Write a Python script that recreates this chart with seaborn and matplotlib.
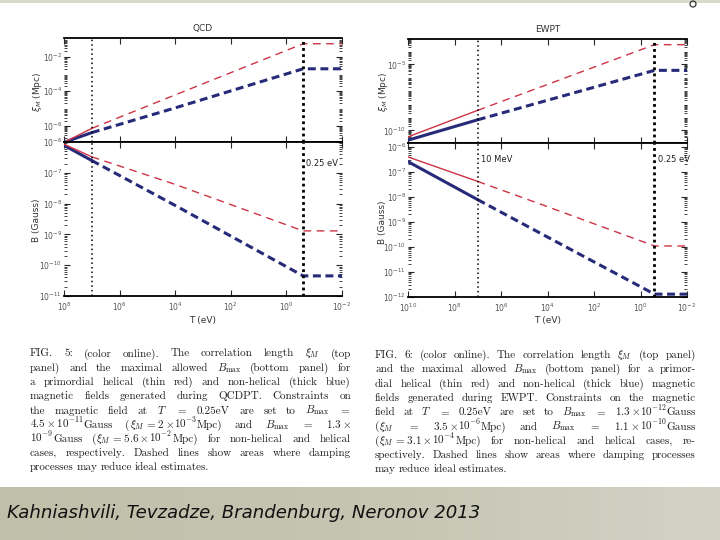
import numpy as np
import pandas as pd
import matplotlib
matplotlib.use("Agg")
import matplotlib.pyplot as plt
import seaborn as sns
from matplotlib.ticker import FixedLocator, NullFormatter, LogFormatterSciNotation
from matplotlib.patches import Rectangle, Ellipse
from matplotlib.colors import LinearSegmentedColormap

sns.set_theme(style="white")
plt.rcParams["font.family"] = ["DejaVu Sans"]
plt.rcParams["mathtext.fontset"] = "dejavusans"

# ---------------- data ----------------
qcd_T = [1e8, 1e7, 1e4, 0.25, 1e-2]
qcd_xi_hel = [1.12e-7, 7.2e-7, 6.2e-5, 5.6e-2, 5.6e-2]
qcd_xi_non = [1.12e-7, 4.1e-7, 1.1e-5, 2.0e-3, 2.0e-3]
qcd_B_hel = [8.5e-7, 3.3e-7, 4.2e-8, 1.3e-9, 1.3e-9]
qcd_B_non = [7.8e-7, 2.5e-7, 8.7e-9, 4.5e-11, 4.5e-11]

ew_T = [1e10, 1e7, 1e4, 0.25, 1e-2]
ew_xi_hel = [3.2e-11, 3.3e-9, 3.0e-7, 3.1e-4, 3.1e-4]
ew_xi_non = [1.8e-11, 6.3e-10, 1.9e-8, 3.5e-6, 3.5e-6]
ew_B_hel = [4.0e-7, 4.2e-8, 4.1e-9, 1.1e-10, 1.1e-10]
ew_B_non = [2.6e-7, 7.8e-9, 2.5e-10, 1.3e-12, 1.3e-12]

qcd_xticks = [1e8, 1e6, 1e4, 1e2, 1e0, 1e-2]
ew_xticks = [1e10, 1e8, 1e6, 1e4, 1e2, 1e0, 1e-2]
qcd_xi_yticks = [1e-2, 1e-4, 1e-6]
qcd_B_yticks = [1e-6, 1e-7, 1e-8, 1e-9, 1e-10, 1e-11]
ew_xi_yticks = [1e-5, 1e-10]
ew_B_yticks = [1e-6, 1e-7, 1e-8, 1e-9, 1e-10, 1e-11, 1e-12]

# "|" joins pieces of one word without a justified gap
caption5 = [
    r"FIG. 5: (color online). The correlation length $\xi_M$ (top",
    r"panel) and the maximal allowed $B_\mathrm{max}$ (bottom panel) for",
    r"a primordial helical (thin red) and non-helical (thick blue)",
    r"magnetic fields generated during QCDPT. Constraints on",
    r"the magnetic field at $T$ $=$ 0.25eV are set to $B_\mathrm{max}$ $=$",
    r"$4.5\times10^{-11}$|Gauss (|$\xi_M$|$=2\times$|$10^{-3}$|Mpc) and $B_\mathrm{max}$ $=$ $1.3\times$",
    r"$10^{-9}$|Gauss (|$\xi_M$|$=5.6\times$|$10^{-2}$|Mpc) for non-helical and helical",
    r"cases, respectively. Dashed lines show areas where damping",
    r"processes may reduce ideal estimates.",
]
caption6 = [
    r"FIG. 6: (color online). The correlation length $\xi_M$ (top panel)",
    r"and the maximal allowed $B_\mathrm{max}$ (bottom panel) for a primor-",
    r"dial helical (thin red) and non-helical (thick blue) magnetic",
    r"fields generated during EWPT. Constraints on the magnetic",
    r"field at $T$ $=$ 0.25eV are set to $B_\mathrm{max}$ $=$ $1.3\times$|$10^{-12}$|Gauss",
    r"(|$\xi_M$ $=$ $3.5\times$|$10^{-6}$|Mpc) and $B_\mathrm{max}$ $=$ $1.1\times$|$10^{-10}$|Gauss",
    r"(|$\xi_M$|$=3.1\times$|$10^{-4}$|Mpc) for non-helical and helical cases, re-",
    r"spectively. Dashed lines show areas where damping processes",
    r"may reduce ideal estimates.",
]
footer_text = "Kahniashvili, Tevzadze, Brandenburg, Neronov 2013"

# ---------------- style ----------------
RED = "#cc3346"
BLUE = "#262a78"
W, H = 720, 540
fig = plt.figure(figsize=(7.2, 5.4), dpi=100, facecolor="white")


def fx(px):
    return px / W


def fy(py):
    return 1 - py / H


def box(x0, y0, x1, y1):
    return [fx(x0), fy(y1), fx(x1) - fx(x0), fy(y0) - fy(y1)]


def draw_series(ax, T, hel, non):
    d_red = dict(color=RED, lw=1.0)
    d_blue = dict(color=BLUE, lw=2.2)
    sns.lineplot(x=T[:2], y=non[:2], ax=ax, estimator=None, sort=False, **d_blue)
    sns.lineplot(x=T[:2], y=hel[:2], ax=ax, estimator=None, sort=False, **d_red)
    sns.lineplot(x=T[1:], y=non[1:], ax=ax, estimator=None, sort=False,
                 dashes=False, linestyle=(0, (2.6, 1.5)), **d_blue)
    sns.lineplot(x=T[1:], y=hel[1:], ax=ax, estimator=None, sort=False,
                 dashes=False, linestyle=(0, (5.5, 4)), **d_red)


def style_axes(ax, xlim, ylim, xticks, yticks, show_xlabels):
    ax.set_xscale("log")
    ax.set_yscale("log")
    ax.set_xlim(*xlim)
    ax.set_ylim(*ylim)
    ax.set_facecolor("white")
    for s in ("left", "right"):
        ax.spines[s].set_visible(False)
    for s in ("top", "bottom"):
        ax.spines[s].set_visible(True)
        ax.spines[s].set_color("black")
        ax.spines[s].set_linewidth(1.3)
    ax.xaxis.set_major_locator(FixedLocator(xticks))
    ax.xaxis.set_minor_locator(FixedLocator([]))
    ax.yaxis.set_major_locator(FixedLocator(yticks))
    lo, hi = np.log10(ylim[0]), np.log10(ylim[1])
    minors = []
    for e in range(int(np.floor(lo)) - 1, int(np.ceil(hi)) + 1):
        for m in range(2, 10):
            minors.append(m * 10.0 ** e)
    ax.yaxis.set_minor_locator(FixedLocator(minors))
    ax.yaxis.set_minor_formatter(NullFormatter())
    ax.yaxis.set_major_formatter(LogFormatterSciNotation())
    ax.xaxis.set_major_formatter(LogFormatterSciNotation())
    ax.tick_params(axis="both", which="major", direction="in", length=4, width=0.8,
                   top=True, bottom=True, left=True, right=True, labelsize=5.5,
                   labelcolor="#555555", pad=1.5)
    ax.tick_params(axis="x", which="major", pad=3.2)
    ax.tick_params(axis="y", which="minor", direction="in", length=2, width=0.6,
                   left=True, right=True)
    if not show_xlabels:
        ax.tick_params(axis="x", labelbottom=False)
    ax.grid(False)
    ax.set_xlabel("")
    ax.set_ylabel("")


def vlines(axes, xs):
    for ax in axes:
        ax.axvline(xs[0], color="black", lw=1.1, linestyle=(0, (1, 2)))
        ax.axvline(xs[1], color="black", lw=2.0, linestyle=(0, (1, 1.2)))


# ---- QCD ----
ax1 = fig.add_axes(box(64, 38, 342, 142))
ax2 = fig.add_axes(box(64, 142, 342, 296))
draw_series(ax1, qcd_T, qcd_xi_hel, qcd_xi_non)
draw_series(ax2, qcd_T, qcd_B_hel, qcd_B_non)
style_axes(ax1, (1e8, 1e-2), (10 ** -6.93, 10 ** -0.92), qcd_xticks, qcd_xi_yticks, False)
style_axes(ax2, (1e8, 1e-2), (1e-11, 1e-6), qcd_xticks, qcd_B_yticks, True)
vlines([ax1, ax2], [1e7, 0.25])

# ---- EWPT ----
ax3 = fig.add_axes(box(408, 39, 687, 143))
ax4 = fig.add_axes(box(408, 143, 687, 297))
draw_series(ax3, ew_T, ew_xi_hel, ew_xi_non)
draw_series(ax4, ew_T, ew_B_hel, ew_B_non)
style_axes(ax3, (1e10, 1e-2), (10 ** -10.96, 10 ** -3.08), ew_xticks, ew_xi_yticks, False)
style_axes(ax4, (1e10, 1e-2), (1e-12, 10 ** -5.84), ew_xticks, ew_B_yticks, True)
vlines([ax3, ax4], [1e7, 0.25])

# axis texts
lab = dict(fontsize=6.5, color="#333333", ha="center", va="center")
fig.text(fx(203), fy(29), "QCD", **lab)
fig.text(fx(548), fy(29), "EWPT", **lab)
fig.text(fx(203), fy(320), "T (eV)", **lab)
fig.text(fx(548), fy(321), "T (eV)", **lab)
fig.text(fx(38), fy(92), r"$\xi_M$ (Mpc)", rotation=90, **lab)
fig.text(fx(37), fy(220), "B (Gauss)", rotation=90, **lab)
fig.text(fx(383), fy(92), r"$\xi_M$ (Mpc)", rotation=90, **lab)
fig.text(fx(382), fy(222), "B (Gauss)", rotation=90, **lab)
ann = dict(fontsize=6, color="#222222", ha="left", va="center")
fig.text(fx(306), fy(163), "0.25 eV", **ann)
fig.text(fx(481), fy(160), "10 MeV", **ann)
fig.text(fx(658), fy(160), "0.25 eV", **ann)

# ---------------- captions (justified) ----------------
renderer = fig.canvas.get_renderer()
cap_font = dict(fontsize=8.0, color="#1e1e1e", family=["cmr10", "DejaVu Serif"],
                math_fontfamily="cm", va="baseline", ha="left")


def justify(lines, x0, x1, base0, dy):
    for i, line in enumerate(lines):
        yb = fy(base0 + i * dy)
        words = []
        for w in line.split(" "):
            pieces = [p for p in w.split("|") if p]
            texts = [fig.text(0, yb, p, **cap_font) for p in pieces]
            widths = [t.get_window_extent(renderer).width for t in texts]
            words.append((texts, widths))
        total = sum(sum(ws) for _, ws in words)
        if i == len(lines) - 1 or len(words) == 1:
            gap = 3.0
        else:
            gap = (x1 - x0 - total) / (len(words) - 1)
        x = x0
        for texts, widths in words:
            for t, w in zip(texts, widths):
                t.set_x(fx(x))
                x += w
            x += gap


justify(caption5, 30, 351, 356.5, 14.25)
justify(caption6, 375, 696, 358.0, 14.3)

# ---------------- slide decorations ----------------
bg = fig.add_axes([0, 0, 1, fy(487)], zorder=-5)
grad = np.linspace(0, 1, 256)[None, :]
cmap = LinearSegmentedColormap.from_list("slide", ["#c0bfaa", "#c6c5b2", "#d2d2c6"])
bg.imshow(grad, aspect="auto", cmap=cmap, extent=[0, 1, 0, 1])
bg.set_axis_off()
ft = fig.text(fx(7), fy(513), footer_text, fontsize=12.5, style="italic",
              color="#111111", ha="left", va="center", family=["DejaVu Sans"])
wft = ft.get_window_extent(renderer).width
ft.set_fontsize(12.5 * 475 / wft)

fig.add_artist(Rectangle((0, fy(3)), 1, 3 / H, transform=fig.transFigure,
                         facecolor="#d9d9cc", edgecolor="none", zorder=-4))
fig.add_artist(Ellipse((fx(693), fy(4)), 6 / W, 6 / H, transform=fig.transFigure,
                       facecolor="none", edgecolor="#333333", lw=0.9))

fig.savefig("out.png", dpi=100, facecolor="white")
